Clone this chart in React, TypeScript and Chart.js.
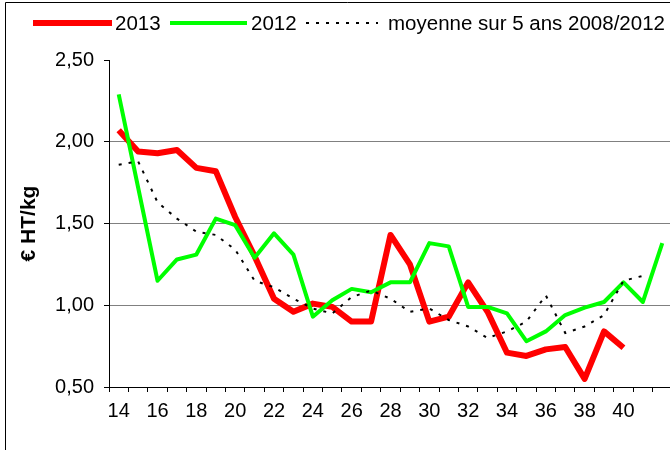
import React, { useEffect, useRef } from 'react';
import { Chart, registerables } from 'chart.js';

Chart.register(...registerables);

// ---- data ----
const semaines = ['14','15','16','17','18','19','20','21','22','23','24','25','26','27','28','29','30','31','32','33','34','35','36','37','38','39','40','41','42'];
const prix2013 = [2.07, 1.94, 1.93, 1.95, 1.84, 1.82, 1.54, 1.30, 1.04, 0.96, 1.01, 0.99, 0.90, 0.90, 1.43, 1.25, 0.90, 0.93, 1.14, 0.96, 0.71, 0.69, 0.73, 0.745, 0.55, 0.84, 0.74, null, null];
const prix2012 = [2.29, 1.72, 1.15, 1.28, 1.31, 1.53, 1.49, 1.29, 1.44, 1.31, 0.93, 1.03, 1.10, 1.08, 1.14, 1.14, 1.38, 1.36, 0.99, 0.99, 0.95, 0.78, 0.84, 0.94, 0.985, 1.02, 1.14, 1.02, 1.38];
const moyenne5ans = [1.86, 1.88, 1.63, 1.53, 1.45, 1.43, 1.34, 1.15, 1.11, 1.04, 0.98, 0.95, 1.05, 1.09, 1.04, 0.96, 0.98, 0.91, 0.87, 0.80, 0.84, 0.90, 1.06, 0.83, 0.87, 0.94, 1.15, 1.18, null];
const serieLabels = ['2013', '2012', 'moyenne sur 5 ans 2008/2012'];
const yMin = 0.5;
const yMax = 2.5;
const yStep = 0.5;
const yTitle = '€ HT/kg';

const FONT = '"Liberation Sans", Arial, sans-serif';

const framePlugin = {
  id: 'frameAndLegend',
  beforeDraw(chart: any) {
    const ctx = chart.ctx;
    ctx.save();
    ctx.fillStyle = '#ffffff';
    ctx.fillRect(0, 0, chart.width, chart.height);
    ctx.restore();
  },
  afterDraw(chart: any) {
    const ctx = chart.ctx;
    ctx.save();
    // outer frame (left + top)
    ctx.strokeStyle = '#000000';
    ctx.lineWidth = 1;
    ctx.beginPath();
    ctx.moveTo(5.5, chart.height);
    ctx.lineTo(5.5, 2.5);
    ctx.lineTo(chart.width, 2.5);
    ctx.stroke();

    // legend
    const items = [
      { x0: 33, x1: 112, tx: 115 },
      { x0: 170, x1: 247, tx: 251 },
      { x0: 306, x1: 378, tx: 388 },
    ];
    const y = 23;
    ctx.font = '20.5px ' + FONT;
    ctx.textBaseline = 'middle';
    ctx.textAlign = 'left';
    chart.data.datasets.forEach((ds: any, i: number) => {
      const it = items[i];
      ctx.save();
      ctx.strokeStyle = ds.borderColor;
      ctx.lineWidth = ds.borderWidth;
      ctx.setLineDash(ds.borderDash || []);
      ctx.lineCap = 'butt';
      ctx.beginPath();
      ctx.moveTo(it.x0, y);
      ctx.lineTo(it.x1, y);
      ctx.stroke();
      ctx.restore();
      ctx.fillStyle = '#000000';
      ctx.fillText(ds.label, it.tx, y + 1);
    });
    ctx.restore();
  },
};

export default function App() {
  const canvasRef = useRef<HTMLCanvasElement | null>(null);

  useEffect(() => {
    document.body.style.margin = '0';
    const canvas = canvasRef.current;
    if (!canvas) return;
    const chart = new Chart(canvas, {
      type: 'line',
      data: {
        labels: semaines,
        datasets: [
          {
            label: serieLabels[0],
            data: prix2013,
            borderColor: '#ff0000',
            backgroundColor: '#ff0000',
            borderWidth: 6,
            pointRadius: 0,
            tension: 0,
            borderJoinStyle: 'round',
            order: 2,
          },
          {
            label: serieLabels[1],
            data: prix2012,
            borderColor: '#00ff00',
            backgroundColor: '#00ff00',
            borderWidth: 4,
            pointRadius: 0,
            tension: 0,
            borderJoinStyle: 'round',
            order: 1,
          },
          {
            label: serieLabels[2],
            data: moyenne5ans,
            borderColor: '#000000',
            backgroundColor: '#000000',
            borderWidth: 2,
            borderDash: [3, 7],
            pointRadius: 0,
            tension: 0,
            order: 0,
          },
        ],
      },
      options: {
        animation: false,
        responsive: false,
        events: [],
        layout: { padding: { top: 60, left: 0, right: 18, bottom: 0 } },
        plugins: {
          legend: { display: false },
          tooltip: { enabled: false },
          title: { display: false },
        },
        scales: {
          x: {
            type: 'category',
            offset: true,
            grid: {
              display: true,
              offset: true,
              drawOnChartArea: false,
              drawTicks: true,
              tickLength: 5,
              tickColor: '#000000',
              color: '#000000',
            },
            border: { display: true, color: '#000000', width: 1 },
            ticks: {
              autoSkip: false,
              maxRotation: 0,
              minRotation: 0,
              padding: 7,
              color: '#000000',
              font: { family: FONT, size: 20 },
              callback: (_v: any, i: number) => (i % 2 === 0 && i <= 26 ? semaines[i] : ''),
            },
            afterFit: (scale: any) => {
              scale.height = 63;
            },
          },
          y: {
            min: yMin,
            max: yMax,
            grid: {
              color: (c: any) => (c.tick && (c.tick.value === yMax || c.tick.value === yMin) ? 'rgba(0,0,0,0)' : '#808080'),
              drawTicks: true,
              tickLength: 5,
              tickColor: '#000000',
              lineWidth: 1,
            },
            border: { display: true, color: '#000000', width: 1 },
            ticks: {
              stepSize: yStep,
              padding: 10,
              color: '#000000',
              font: { family: FONT, size: 20 },
              callback: (v: any) => Number(v).toFixed(2).replace('.', ','),
            },
            title: {
              display: true,
              text: yTitle,
              color: '#000000',
              font: { family: FONT, size: 21, weight: 'bold' },
              padding: { top: 17, bottom: 0 },
            },
            afterFit: (scale: any) => {
              scale.width = 109;
            },
          },
        },
      },
      plugins: [framePlugin],
    } as any);
    return () => chart.destroy();
  }, []);

  return (
    <div style={{ width: 670, height: 450, overflow: 'hidden', position: 'relative', background: '#fff' }}>
      <canvas ref={canvasRef} width={690} height={450} style={{ display: 'block' }} />
    </div>
  );
}
